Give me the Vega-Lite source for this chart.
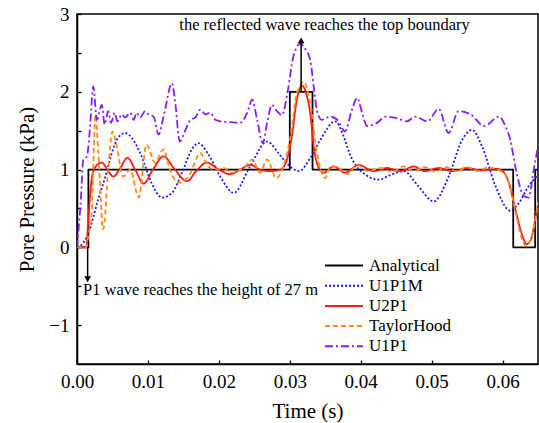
{
  "$schema": "https://vega.github.io/schema/vega-lite/v6.json",
  "width": 461,
  "height": 350,
  "autosize": {"type": "none"},
  "padding": {"left": 77, "top": 14, "right": 1, "bottom": 59},
  "background": "white",
  "config": {
    "view": {"stroke": "black", "strokeWidth": 1.5},
    "font": "Liberation Serif",
    "axis": {"grid": false, "domainColor": "black", "domainWidth": 1.5, "tickColor": "black", "tickWidth": 1.3, "labelColor": "black", "titleColor": "black", "labelFont": "Liberation Serif", "titleFont": "Liberation Serif", "titleFontWeight": "normal", "labelFlush": false, "labelOverlap": false},
    "legend": {"orient": "none", "legendX": 256.5, "legendY": 241, "symbolType": "M-2,0H2", "symbolSize": 361, "symbolStrokeWidth": 2, "labelFont": "Liberation Serif", "labelFontSize": 17, "labelColor": "black", "rowPadding": 1.2, "labelOffset": 14.5, "padding": 0}
  },
  "datasets": {
    "curves": [
      {"series": "Analytical", "t": 0, "p": 0},
      {"series": "Analytical", "t": 0.0016, "p": 0},
      {"series": "Analytical", "t": 0.00161, "p": 1},
      {"series": "Analytical", "t": 0.0300, "p": 1},
      {"series": "Analytical", "t": 0.03001, "p": 2},
      {"series": "Analytical", "t": 0.0332, "p": 2},
      {"series": "Analytical", "t": 0.03321, "p": 1},
      {"series": "Analytical", "t": 0.0615, "p": 1},
      {"series": "Analytical", "t": 0.06151, "p": 0},
      {"series": "Analytical", "t": 0.0646, "p": 0},
      {"series": "Analytical", "t": 0.06461, "p": 1},
      {"series": "Analytical", "t": 0.065, "p": 1},

      {"series": "U1P1M", "t": 0, "p": 0},
      {"series": "U1P1M", "t": 0.0005, "p": 0.02},
      {"series": "U1P1M", "t": 0.0016, "p": 0.18},
      {"series": "U1P1M", "t": 0.003, "p": 0.62},
      {"series": "U1P1M", "t": 0.004, "p": 0.91},
      {"series": "U1P1M", "t": 0.0049, "p": 1.21},
      {"series": "U1P1M", "t": 0.0058, "p": 1.41},
      {"series": "U1P1M", "t": 0.0068, "p": 1.47},
      {"series": "U1P1M", "t": 0.0077, "p": 1.41},
      {"series": "U1P1M", "t": 0.0091, "p": 1.17},
      {"series": "U1P1M", "t": 0.0105, "p": 0.83},
      {"series": "U1P1M", "t": 0.012, "p": 0.64},
      {"series": "U1P1M", "t": 0.0134, "p": 0.70},
      {"series": "U1P1M", "t": 0.0148, "p": 0.96},
      {"series": "U1P1M", "t": 0.0162, "p": 1.26},
      {"series": "U1P1M", "t": 0.0171, "p": 1.34},
      {"series": "U1P1M", "t": 0.0185, "p": 1.2},
      {"series": "U1P1M", "t": 0.0202, "p": 0.91},
      {"series": "U1P1M", "t": 0.0221, "p": 0.70},
      {"series": "U1P1M", "t": 0.0244, "p": 1.04},
      {"series": "U1P1M", "t": 0.0268, "p": 1.36},
      {"series": "U1P1M", "t": 0.0285, "p": 1.2},
      {"series": "U1P1M", "t": 0.0298, "p": 1.06},
      {"series": "U1P1M", "t": 0.0313, "p": 0.98},
      {"series": "U1P1M", "t": 0.0329, "p": 1.15},
      {"series": "U1P1M", "t": 0.0343, "p": 1.38},
      {"series": "U1P1M", "t": 0.0364, "p": 1.62},
      {"series": "U1P1M", "t": 0.0375, "p": 1.45},
      {"series": "U1P1M", "t": 0.0385, "p": 1.19},
      {"series": "U1P1M", "t": 0.0409, "p": 0.92},
      {"series": "U1P1M", "t": 0.0425, "p": 0.87},
      {"series": "U1P1M", "t": 0.0442, "p": 0.93},
      {"series": "U1P1M", "t": 0.0461, "p": 0.98},
      {"series": "U1P1M", "t": 0.048, "p": 0.8},
      {"series": "U1P1M", "t": 0.0503, "p": 0.59},
      {"series": "U1P1M", "t": 0.0524, "p": 0.91},
      {"series": "U1P1M", "t": 0.0543, "p": 1.38},
      {"series": "U1P1M", "t": 0.0557, "p": 1.51},
      {"series": "U1P1M", "t": 0.0571, "p": 1.3},
      {"series": "U1P1M", "t": 0.059, "p": 0.79},
      {"series": "U1P1M", "t": 0.0611, "p": 0.47},
      {"series": "U1P1M", "t": 0.0623, "p": 0.57},
      {"series": "U1P1M", "t": 0.0637, "p": 0.79},
      {"series": "U1P1M", "t": 0.065, "p": 0.93},

      {"series": "U2P1", "t": 0, "p": 0},
      {"series": "U2P1", "t": 0.0013, "p": 0},
      {"series": "U2P1", "t": 0.0016, "p": 0.36},
      {"series": "U2P1", "t": 0.002, "p": 0.83},
      {"series": "U2P1", "t": 0.0025, "p": 1.02},
      {"series": "U2P1", "t": 0.0035, "p": 1.09},
      {"series": "U2P1", "t": 0.0044, "p": 0.98},
      {"series": "U2P1", "t": 0.0051, "p": 0.91},
      {"series": "U2P1", "t": 0.0061, "p": 1.02},
      {"series": "U2P1", "t": 0.0071, "p": 1.15},
      {"series": "U2P1", "t": 0.0082, "p": 1.0},
      {"series": "U2P1", "t": 0.0094, "p": 0.82},
      {"series": "U2P1", "t": 0.0107, "p": 1.0},
      {"series": "U2P1", "t": 0.0122, "p": 1.17},
      {"series": "U2P1", "t": 0.0138, "p": 1.0},
      {"series": "U2P1", "t": 0.0155, "p": 0.85},
      {"series": "U2P1", "t": 0.0168, "p": 0.98},
      {"series": "U2P1", "t": 0.0183, "p": 1.09},
      {"series": "U2P1", "t": 0.02, "p": 1.0},
      {"series": "U2P1", "t": 0.0216, "p": 0.94},
      {"series": "U2P1", "t": 0.023, "p": 1.0},
      {"series": "U2P1", "t": 0.0244, "p": 1.06},
      {"series": "U2P1", "t": 0.0258, "p": 1.0},
      {"series": "U2P1", "t": 0.0272, "p": 0.98},
      {"series": "U2P1", "t": 0.0287, "p": 1.0},
      {"series": "U2P1", "t": 0.0296, "p": 1.13},
      {"series": "U2P1", "t": 0.0303, "p": 1.43},
      {"series": "U2P1", "t": 0.031, "p": 1.9},
      {"series": "U2P1", "t": 0.0317, "p": 2.08},
      {"series": "U2P1", "t": 0.0324, "p": 1.95},
      {"series": "U2P1", "t": 0.0329, "p": 1.71},
      {"series": "U2P1", "t": 0.0334, "p": 1.28},
      {"series": "U2P1", "t": 0.0341, "p": 1.02},
      {"series": "U2P1", "t": 0.0348, "p": 0.96},
      {"series": "U2P1", "t": 0.0362, "p": 1.04},
      {"series": "U2P1", "t": 0.0378, "p": 0.96},
      {"series": "U2P1", "t": 0.0397, "p": 1.06},
      {"series": "U2P1", "t": 0.0418, "p": 0.98},
      {"series": "U2P1", "t": 0.0437, "p": 1.02},
      {"series": "U2P1", "t": 0.0456, "p": 0.98},
      {"series": "U2P1", "t": 0.0475, "p": 1.04},
      {"series": "U2P1", "t": 0.049, "p": 0.98},
      {"series": "U2P1", "t": 0.051, "p": 1.02},
      {"series": "U2P1", "t": 0.053, "p": 0.98},
      {"series": "U2P1", "t": 0.055, "p": 1.02},
      {"series": "U2P1", "t": 0.057, "p": 0.99},
      {"series": "U2P1", "t": 0.059, "p": 1.01},
      {"series": "U2P1", "t": 0.06, "p": 0.98},
      {"series": "U2P1", "t": 0.0609, "p": 0.83},
      {"series": "U2P1", "t": 0.0618, "p": 0.49},
      {"series": "U2P1", "t": 0.0628, "p": 0.15},
      {"series": "U2P1", "t": 0.0634, "p": 0.04},
      {"series": "U2P1", "t": 0.064, "p": 0.1},
      {"series": "U2P1", "t": 0.0645, "p": 0.3},
      {"series": "U2P1", "t": 0.065, "p": 0.55},

      {"series": "TaylorHood", "t": 0, "p": 0},
      {"series": "TaylorHood", "t": 0.0013, "p": 0},
      {"series": "TaylorHood", "t": 0.0016, "p": 0.15},
      {"series": "TaylorHood", "t": 0.0021, "p": 0.49},
      {"series": "TaylorHood", "t": 0.0026, "p": 1.7},
      {"series": "TaylorHood", "t": 0.003, "p": 1.22},
      {"series": "TaylorHood", "t": 0.0037, "p": 0.23},
      {"series": "TaylorHood", "t": 0.0044, "p": 1.0},
      {"series": "TaylorHood", "t": 0.005, "p": 1.49},
      {"series": "TaylorHood", "t": 0.0056, "p": 1.3},
      {"series": "TaylorHood", "t": 0.0065, "p": 0.91},
      {"series": "TaylorHood", "t": 0.0075, "p": 1.0},
      {"series": "TaylorHood", "t": 0.0087, "p": 0.64},
      {"series": "TaylorHood", "t": 0.0098, "p": 1.32},
      {"series": "TaylorHood", "t": 0.011, "p": 1.09},
      {"series": "TaylorHood", "t": 0.0122, "p": 1.26},
      {"series": "TaylorHood", "t": 0.0131, "p": 1.0},
      {"series": "TaylorHood", "t": 0.0143, "p": 0.83},
      {"series": "TaylorHood", "t": 0.0158, "p": 0.92},
      {"series": "TaylorHood", "t": 0.0174, "p": 1.21},
      {"series": "TaylorHood", "t": 0.0185, "p": 1.04},
      {"series": "TaylorHood", "t": 0.0195, "p": 1.0},
      {"series": "TaylorHood", "t": 0.0207, "p": 1.02},
      {"series": "TaylorHood", "t": 0.0218, "p": 0.96},
      {"series": "TaylorHood", "t": 0.0237, "p": 1.04},
      {"series": "TaylorHood", "t": 0.0247, "p": 1.13},
      {"series": "TaylorHood", "t": 0.0258, "p": 0.96},
      {"series": "TaylorHood", "t": 0.0268, "p": 1.13},
      {"series": "TaylorHood", "t": 0.0281, "p": 0.89},
      {"series": "TaylorHood", "t": 0.0291, "p": 1.04},
      {"series": "TaylorHood", "t": 0.0301, "p": 1.43},
      {"series": "TaylorHood", "t": 0.031, "p": 1.98},
      {"series": "TaylorHood", "t": 0.032, "p": 2.13},
      {"series": "TaylorHood", "t": 0.0327, "p": 1.94},
      {"series": "TaylorHood", "t": 0.0331, "p": 1.75},
      {"series": "TaylorHood", "t": 0.0336, "p": 1.36},
      {"series": "TaylorHood", "t": 0.0343, "p": 1.02},
      {"series": "TaylorHood", "t": 0.035, "p": 0.89},
      {"series": "TaylorHood", "t": 0.0357, "p": 1.04},
      {"series": "TaylorHood", "t": 0.0369, "p": 1.02},
      {"series": "TaylorHood", "t": 0.0381, "p": 0.94},
      {"series": "TaylorHood", "t": 0.0395, "p": 1.06},
      {"series": "TaylorHood", "t": 0.041, "p": 0.98},
      {"series": "TaylorHood", "t": 0.0428, "p": 1.02},
      {"series": "TaylorHood", "t": 0.0445, "p": 0.97},
      {"series": "TaylorHood", "t": 0.046, "p": 1.04},
      {"series": "TaylorHood", "t": 0.0475, "p": 0.98},
      {"series": "TaylorHood", "t": 0.049, "p": 1.03},
      {"series": "TaylorHood", "t": 0.0505, "p": 0.97},
      {"series": "TaylorHood", "t": 0.052, "p": 1.03},
      {"series": "TaylorHood", "t": 0.0535, "p": 0.98},
      {"series": "TaylorHood", "t": 0.055, "p": 1.03},
      {"series": "TaylorHood", "t": 0.0565, "p": 0.98},
      {"series": "TaylorHood", "t": 0.058, "p": 1.03},
      {"series": "TaylorHood", "t": 0.0595, "p": 0.99},
      {"series": "TaylorHood", "t": 0.0603, "p": 0.95},
      {"series": "TaylorHood", "t": 0.061, "p": 0.8},
      {"series": "TaylorHood", "t": 0.0618, "p": 0.47},
      {"series": "TaylorHood", "t": 0.0627, "p": 0.12},
      {"series": "TaylorHood", "t": 0.0633, "p": 0.02},
      {"series": "TaylorHood", "t": 0.0639, "p": 0.08},
      {"series": "TaylorHood", "t": 0.0645, "p": 0.3},
      {"series": "TaylorHood", "t": 0.065, "p": 0.58},

      {"series": "U1P1", "t": 0, "p": 0},
      {"series": "U1P1", "t": 0.0005, "p": 0.55},
      {"series": "U1P1", "t": 0.0009, "p": 1.13},
      {"series": "U1P1", "t": 0.0014, "p": 1.17},
      {"series": "U1P1", "t": 0.0018, "p": 1.5},
      {"series": "U1P1", "t": 0.0023, "p": 2.07},
      {"series": "U1P1", "t": 0.0028, "p": 1.64},
      {"series": "U1P1", "t": 0.0035, "p": 1.83},
      {"series": "U1P1", "t": 0.0039, "p": 1.58},
      {"series": "U1P1", "t": 0.0044, "p": 1.75},
      {"series": "U1P1", "t": 0.0048, "p": 1.6},
      {"series": "U1P1", "t": 0.0053, "p": 1.73},
      {"series": "U1P1", "t": 0.0057, "p": 1.62},
      {"series": "U1P1", "t": 0.0063, "p": 1.71},
      {"series": "U1P1", "t": 0.0068, "p": 1.67},
      {"series": "U1P1", "t": 0.0075, "p": 1.73},
      {"series": "U1P1", "t": 0.008, "p": 1.64},
      {"series": "U1P1", "t": 0.0084, "p": 1.73},
      {"series": "U1P1", "t": 0.0089, "p": 1.67},
      {"series": "U1P1", "t": 0.0096, "p": 1.75},
      {"series": "U1P1", "t": 0.0101, "p": 1.71},
      {"series": "U1P1", "t": 0.0108, "p": 1.68},
      {"series": "U1P1", "t": 0.0115, "p": 1.45},
      {"series": "U1P1", "t": 0.0122, "p": 1.68},
      {"series": "U1P1", "t": 0.0134, "p": 2.11},
      {"series": "U1P1", "t": 0.0138, "p": 1.9},
      {"series": "U1P1", "t": 0.0145, "p": 1.36},
      {"series": "U1P1", "t": 0.0152, "p": 1.49},
      {"series": "U1P1", "t": 0.016, "p": 1.64},
      {"series": "U1P1", "t": 0.0167, "p": 1.67},
      {"series": "U1P1", "t": 0.0174, "p": 1.77},
      {"series": "U1P1", "t": 0.0181, "p": 1.71},
      {"series": "U1P1", "t": 0.0188, "p": 1.73},
      {"series": "U1P1", "t": 0.0195, "p": 1.64},
      {"series": "U1P1", "t": 0.0202, "p": 1.62},
      {"series": "U1P1", "t": 0.0216, "p": 1.61},
      {"series": "U1P1", "t": 0.023, "p": 1.6},
      {"series": "U1P1", "t": 0.024, "p": 1.73},
      {"series": "U1P1", "t": 0.0247, "p": 1.9},
      {"series": "U1P1", "t": 0.0254, "p": 1.64},
      {"series": "U1P1", "t": 0.0262, "p": 1.34},
      {"series": "U1P1", "t": 0.0268, "p": 1.6},
      {"series": "U1P1", "t": 0.0275, "p": 1.83},
      {"series": "U1P1", "t": 0.0282, "p": 1.75},
      {"series": "U1P1", "t": 0.0289, "p": 1.7},
      {"series": "U1P1", "t": 0.0297, "p": 2.0},
      {"series": "U1P1", "t": 0.0305, "p": 2.45},
      {"series": "U1P1", "t": 0.0315, "p": 2.62},
      {"series": "U1P1", "t": 0.0322, "p": 2.55},
      {"series": "U1P1", "t": 0.0329, "p": 2.4},
      {"series": "U1P1", "t": 0.0334, "p": 2.05},
      {"series": "U1P1", "t": 0.0338, "p": 1.77},
      {"series": "U1P1", "t": 0.0345, "p": 1.64},
      {"series": "U1P1", "t": 0.0357, "p": 1.68},
      {"series": "U1P1", "t": 0.0367, "p": 1.64},
      {"series": "U1P1", "t": 0.0378, "p": 1.49},
      {"series": "U1P1", "t": 0.0387, "p": 1.75},
      {"series": "U1P1", "t": 0.0395, "p": 1.92},
      {"series": "U1P1", "t": 0.0402, "p": 1.73},
      {"series": "U1P1", "t": 0.0409, "p": 1.56},
      {"series": "U1P1", "t": 0.0423, "p": 1.6},
      {"series": "U1P1", "t": 0.0435, "p": 1.68},
      {"series": "U1P1", "t": 0.0451, "p": 1.66},
      {"series": "U1P1", "t": 0.0465, "p": 1.62},
      {"series": "U1P1", "t": 0.0477, "p": 1.68},
      {"series": "U1P1", "t": 0.0494, "p": 1.62},
      {"series": "U1P1", "t": 0.051, "p": 1.78},
      {"series": "U1P1", "t": 0.0524, "p": 1.47},
      {"series": "U1P1", "t": 0.0538, "p": 1.75},
      {"series": "U1P1", "t": 0.0555, "p": 1.71},
      {"series": "U1P1", "t": 0.0574, "p": 1.56},
      {"series": "U1P1", "t": 0.0595, "p": 1.68},
      {"series": "U1P1", "t": 0.0604, "p": 1.56},
      {"series": "U1P1", "t": 0.0611, "p": 1.38},
      {"series": "U1P1", "t": 0.0618, "p": 1.04},
      {"series": "U1P1", "t": 0.063, "p": 0.66},
      {"series": "U1P1", "t": 0.0637, "p": 0.64},
      {"series": "U1P1", "t": 0.0644, "p": 1.0},
      {"series": "U1P1", "t": 0.065, "p": 1.3}
    ],
    "arrows": [
      {"t": 0.0316, "from": 2.0, "to": 2.66, "shape": "triangle-up"},
      {"t": 0.0015, "from": 0.0, "to": -0.41, "shape": "triangle-down"}
    ],
    "note1": [
      {"t": 0.0349, "p": 2.86, "label": "the reflected wave reaches the top boundary"}
    ],
    "note2": [
      {"t": 0.00085, "p": -0.55, "label": "P1 wave reaches the height of 27 m"}
    ]
  },
  "layer": [
    {
      "data": {"name": "curves"},
      "mark": {"type": "line", "strokeWidth": 1.8, "clip": true, "interpolate": "monotone"},
      "encoding": {
        "x": {"field": "t", "type": "quantitative",
          "scale": {"domain": [0, 0.065], "nice": false, "zero": false},
          "axis": {"title": "Time (s)", "titleFontSize": 21, "titleX": 230.5, "titleY": 53, "titleBaseline": "alphabetic",
            "values": [0, 0.005, 0.01, 0.015, 0.02, 0.025, 0.03, 0.035, 0.04, 0.045, 0.05, 0.055, 0.06, 0.065],
            "labelExpr": "abs(datum.value*100 - round(datum.value*100)) < 0.000001 ? format(datum.value, '.2f') : ''",
            "labelFontSize": 19, "tickSize": -4, "labelPadding": 12}},
        "y": {"field": "p", "type": "quantitative",
          "scale": {"domain": [-1.5, 3], "nice": false, "zero": false},
          "axis": {"title": "Pore Pressure (kPa)", "titleFontSize": 21, "titleX": -44, "titleY": 175, "titleBaseline": "alphabetic", "titleAngle": -90,
            "values": [-1, -0.5, 0, 0.5, 1, 1.5, 2, 2.5, 3],
            "labelExpr": "datum.value == round(datum.value) ? format(datum.value, 'd') : ''",
            "labelFontSize": 19, "tickSize": -4, "labelPadding": 12}},
        "color": {"field": "series", "type": "nominal", "title": null,
          "scale": {"domain": ["Analytical", "U1P1M", "U2P1", "TaylorHood", "U1P1"], "range": ["#000000", "#1a1aff", "#ff1a1a", "#ff8c1a", "#8b1cf5"]},
          "legend": {"title": null}},
        "strokeDash": {"field": "series", "type": "nominal", "title": null,
          "scale": {"domain": ["Analytical", "U1P1M", "U2P1", "TaylorHood", "U1P1"], "range": [[1, 0], [2, 2], [1, 0], [5, 3], [8, 3, 2, 3]]},
          "legend": {"title": null}}
      }
    },
    {
      "data": {"name": "arrows"},
      "mark": {"type": "rule", "color": "black", "strokeWidth": 1.5},
      "encoding": {
        "x": {"field": "t", "type": "quantitative"},
        "y": {"field": "from", "type": "quantitative"},
        "y2": {"field": "to"}
      }
    },
    {
      "data": {"name": "arrows"},
      "mark": {"type": "point", "filled": true, "color": "black", "opacity": 1, "size": 45},
      "encoding": {
        "x": {"field": "t", "type": "quantitative"},
        "y": {"field": "to", "type": "quantitative"},
        "shape": {"field": "shape", "type": "nominal", "scale": null, "legend": null}
      }
    },
    {
      "data": {"name": "note1"},
      "mark": {"type": "text", "font": "Liberation Serif", "fontSize": 16.5, "color": "black", "baseline": "middle", "align": "center"},
      "encoding": {
        "x": {"field": "t", "type": "quantitative"},
        "y": {"field": "p", "type": "quantitative"},
        "text": {"field": "label"}
      }
    },
    {
      "data": {"name": "note2"},
      "mark": {"type": "text", "font": "Liberation Serif", "fontSize": 16.5, "color": "black", "baseline": "middle", "align": "left"},
      "encoding": {
        "x": {"field": "t", "type": "quantitative"},
        "y": {"field": "p", "type": "quantitative"},
        "text": {"field": "label"}
      }
    }
  ]
}
